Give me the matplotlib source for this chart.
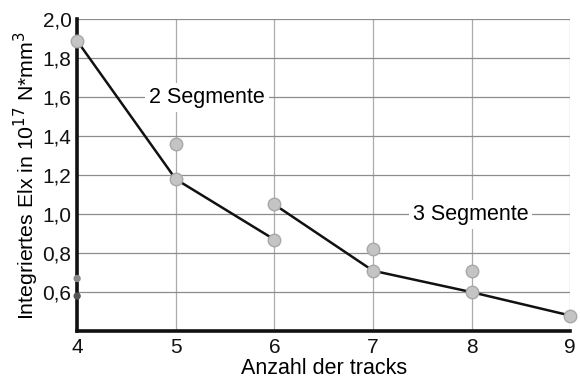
import matplotlib
matplotlib.use("Agg")
import matplotlib.pyplot as plt
from matplotlib.ticker import FuncFormatter

plt.rcParams['font.family'] = ['Liberation Sans', 'DejaVu Sans']

# Data
tracks_2seg = [4, 5, 6]
elx_2seg = [1.89, 1.18, 0.87]
tracks_3seg = [6, 7, 8, 9]
elx_3seg = [1.05, 0.71, 0.60, 0.48]
tracks_extra = [5, 7, 8]
elx_extra = [1.36, 0.82, 0.71]
tracks_small = [4, 4]
elx_small = [0.67, 0.58]
small_colors = ['#8a8a8a', '#555555']

x_ticks = [4, 5, 6, 7, 8, 9]
y_ticks = [0.6, 0.8, 1.0, 1.2, 1.4, 1.6, 1.8, 2.0]

fig = plt.figure(figsize=(5.8, 3.81), dpi=100)
ax = fig.add_axes([0.133, 0.131, 0.850, 0.818])

ax.set_xlim(4, 9)
ax.set_ylim(0.4, 2.0)
ax.set_xticks(x_ticks)
ax.set_yticks(y_ticks)
ax.yaxis.set_major_formatter(FuncFormatter(lambda v, p: f"{v:.1f}".replace('.', ',')))
ax.grid(True, axis='y', color='#8c8c8c', linewidth=0.9, zorder=0)
ax.grid(True, axis='x', color='#ababab', linewidth=0.9, zorder=0)
ax.set_axisbelow(True)

for s in ['top', 'right']:
    ax.spines[s].set_visible(False)
for s in ['left', 'bottom']:
    ax.spines[s].set_linewidth(2.6)
    ax.spines[s].set_color('#111111')
    ax.spines[s].set_zorder(2)

ax.tick_params(axis='both', length=0, labelsize=15, colors='#111111')
ax.tick_params(axis='x', pad=5)
ax.tick_params(axis='y', pad=4)

mk = dict(marker='o', markersize=9, markerfacecolor='#c4c4c4',
          markeredgecolor='#a8a8a8', markeredgewidth=1.0)
ax.plot(tracks_2seg, elx_2seg, color='#111111', linewidth=1.8, zorder=3, clip_on=False, **mk)
ax.plot(tracks_3seg, elx_3seg, color='#111111', linewidth=1.8, zorder=3, clip_on=False, **mk)
ax.plot(tracks_extra, elx_extra, linestyle='none', zorder=3, clip_on=False, **mk)
ax.scatter(tracks_small, elx_small, s=18, c=small_colors, zorder=4, clip_on=False)

bbox = dict(facecolor='white', edgecolor='none', pad=3)
ax.text(5.32, 1.6, "2 Segmente", fontsize=15.5, ha='center', va='center', bbox=bbox, zorder=2.5)
ax.text(7.99, 1.0, "3 Segmente", fontsize=15.5, ha='center', va='center', bbox=bbox, zorder=2.5)

ax.set_xlabel("Anzahl der tracks", fontsize=15.5, labelpad=1)
ax.set_ylabel("Integriertes Elx in 10$^{17}$ N*mm$^3$", fontsize=15.3, labelpad=1)

fig.savefig("out.png", dpi=100)
